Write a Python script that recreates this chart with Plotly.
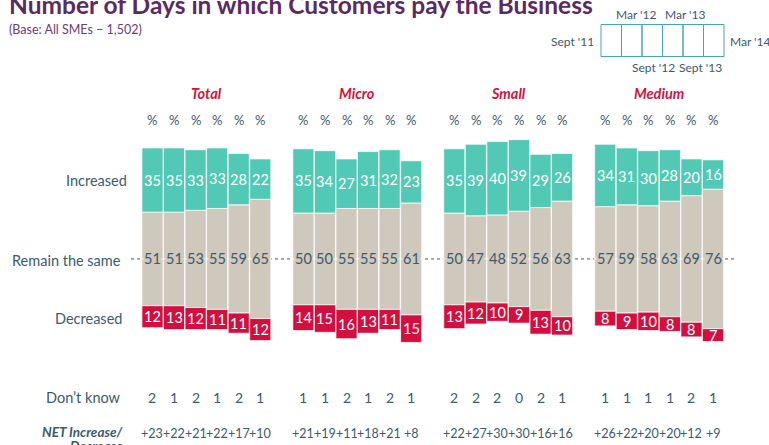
import plotly.graph_objects as go

# ---------------- data ----------------
groups = ["Total", "Micro", "Small", "Medium"]
waves = ["Sept '11", "Mar '12", "Sept '12", "Mar '13", "Sept '13", "Mar '14"]

increased = {
    "Total":  [35, 35, 33, 33, 28, 22],
    "Micro":  [35, 34, 27, 31, 32, 23],
    "Small":  [35, 39, 40, 39, 29, 26],
    "Medium": [34, 31, 30, 28, 20, 16],
}
remain_same = {
    "Total":  [51, 51, 53, 55, 59, 65],
    "Micro":  [50, 50, 55, 55, 55, 61],
    "Small":  [50, 47, 48, 52, 56, 63],
    "Medium": [57, 59, 58, 63, 69, 76],
}
decreased = {
    "Total":  [12, 13, 12, 11, 11, 12],
    "Micro":  [14, 15, 16, 13, 11, 15],
    "Small":  [13, 12, 10, 9, 13, 10],
    "Medium": [8, 9, 10, 8, 8, 7],
}
dont_know = {
    "Total":  [2, 1, 2, 1, 2, 1],
    "Micro":  [1, 1, 2, 1, 2, 1],
    "Small":  [2, 2, 2, 0, 2, 1],
    "Medium": [1, 1, 1, 1, 2, 1],
}
net_change = {
    "Total":  ["+23", "+22", "+21", "+22", "+17", "+10"],
    "Micro":  ["+21", "+19", "+11", "+18", "+21", "+8"],
    "Small":  ["+22", "+27", "+30", "+30", "+16", "+16"],
    "Medium": ["+26", "+22", "+20", "+20", "+12", "+9"],
}

# ---------------- style ----------------
W, H = 769, 445
TEAL = "#52c9b4"
GREY = "#cfc8bc"
RED = "#d20f3e"
SLATE = "#3d5a6b"
PURPLE = "#5b2a63"
CRIMSON = "#d2143c"
BOXC = "#4aa3b8"
FONT = "Lato"

def px(x):
    return x / W

def py(y):
    return 1 - y / H

# positions: each group occupies 6 slots, one slot gap between groups
xs, inc, same, dec, dk, net = [], [], [], [], [], []
for g_i, g in enumerate(groups):
    for i in range(6):
        xs.append(g_i * 7 + i)
        inc.append(increased[g][i])
        same.append(remain_same[g][i])
        dec.append(decreased[g][i])
        dk.append(dont_know[g][i])
        net.append(net_change[g][i])

line_style = dict(color="rgba(255,255,255,0.75)", width=1)
fig = go.Figure()
fig.add_trace(go.Bar(x=xs, y=same, base=[-s / 2 for s in same],
                     marker=dict(color=GREY, line=line_style), width=0.98,
                     hoverinfo="skip"))
fig.add_trace(go.Bar(x=xs, y=inc, base=[s / 2 for s in same],
                     marker=dict(color=TEAL, line=line_style), width=0.98,
                     hoverinfo="skip"))
fig.add_trace(go.Bar(x=xs, y=dec, base=[-s / 2 - d for s, d in zip(same, dec)],
                     marker=dict(color=RED, line=line_style), width=0.98,
                     hoverinfo="skip"))

ann = []
shapes = []

def A(**kw):
    kw.setdefault("showarrow", False)
    kw.setdefault("xanchor", "center")
    kw.setdefault("yanchor", "middle")
    ann.append(kw)

# dashed centre line (behind bars)
shapes.append(dict(type="line", xref="paper", yref="y", x0=px(131), x1=px(737), y0=0, y1=0,
                   line=dict(color=SLATE, width=1, dash="3px,3px"), layer="below"))
# white line through each group (above bars)
for g_i in range(len(groups)):
    shapes.append(dict(type="line", xref="x", yref="y", x0=g_i * 7 - 0.5, x1=g_i * 7 + 5.5,
                       y0=0, y1=0, line=dict(color="white", width=1), layer="above"))

# value labels
for x, a, s, d, k, n in zip(xs, inc, same, dec, dk, net):
    A(x=x, y=s / 2 + a / 2, xref="x", yref="y", text=str(a),
      font=dict(family=FONT, size=14.5, color="white"))
    A(x=x, y=0, xref="x", yref="y", text=str(s),
      font=dict(family=FONT, size=14.5, color=SLATE), bgcolor=GREY, borderpad=0)
    A(x=x, y=-s / 2 - d / 2, xref="x", yref="y", text=str(d),
      font=dict(family=FONT, size=14.5, color="white"))
    A(x=x, y=py(120), xref="x", yref="paper", text="%",
      font=dict(family=FONT, size=13, color=SLATE))
    A(x=x, y=py(397), xref="x", yref="paper", text=str(k),
      font=dict(family=FONT, size=14, color=SLATE))
    A(x=x, y=py(433), xref="x", yref="paper", text=n,
      font=dict(family=FONT, size=12.5, color=SLATE))

# group titles
for g_i, g in enumerate(groups):
    A(x=g_i * 7 + 2.5, y=py(93), xref="x", yref="paper", text=f"<b><i>{g}</i></b>",
      font=dict(family=FONT, size=14.5, color=CRIMSON))

# row labels
rows = [("Increased", 129, 180), ("Remain the same", 123, 260), ("Decreased", 124, 318),
        ("Don\u2019t know", 123, 397)]
for t, xr, yc in rows:
    A(x=px(xr), y=py(yc), xref="paper", yref="paper", text=t, xanchor="right",
      font=dict(family=FONT, size=14.5, color=SLATE))
A(x=px(125), y=py(432), xref="paper", yref="paper", text="<b><i>NET Increase/</i></b>",
  xanchor="right", font=dict(family=FONT, size=13.5, color=SLATE))
A(x=px(125), y=py(446), xref="paper", yref="paper", text="<b><i>Decrease</i></b>",
  xanchor="right", font=dict(family=FONT, size=13.5, color=SLATE))

# title + base
A(x=px(7), y=py(21), xref="paper", yref="paper", xanchor="left", yanchor="bottom",
  text="<b>Number of Days in which Customers pay the Business</b>",
  font=dict(family=FONT, size=24.5, color=PURPLE))
A(x=px(7), y=py(30), xref="paper", yref="paper", xanchor="left",
  text="(Base: All SMEs \u2013 1,502)", font=dict(family=FONT, size=12.5, color="#6b3d73"))

# wave legend box
bx0, bx1, by0, by1 = 601, 724, 24.5, 56.5
cw = (bx1 - bx0) / 6
for i in range(6):
    shapes.append(dict(type="rect", xref="paper", yref="paper",
                       x0=px(bx0 + i * cw), x1=px(bx0 + (i + 1) * cw), y0=py(by1), y1=py(by0),
                       line=dict(color=BOXC, width=1), fillcolor="rgba(0,0,0,0)"))
leg = [(waves[0], 596, 42, "right"), (waves[1], 636, 15, "center"), (waves[3], 685, 15, "center"),
       (waves[5], 728, 42, "left"), (waves[2], 653, 68, "center"), (waves[4], 700, 68, "center")]
for t, x, y, anc in leg:
    A(x=px(x), y=py(y), xref="paper", yref="paper", text=t, xanchor=anc,
      font=dict(family=FONT, size=12, color=SLATE))

fig.update_layout(
    width=W, height=H, margin=dict(l=0, r=0, t=0, b=0),
    paper_bgcolor="white", plot_bgcolor="white", showlegend=False, barmode="overlay",
    xaxis=dict(range=[-7.073, 28.597], visible=False, fixedrange=True),
    yaxis=dict(range=[-101.4, 141.1], visible=False, fixedrange=True),
    annotations=ann, shapes=shapes,
)
fig.write_html("out.html", config={"displayModeBar": False},
               post_script="document.body.style.margin='0';")
